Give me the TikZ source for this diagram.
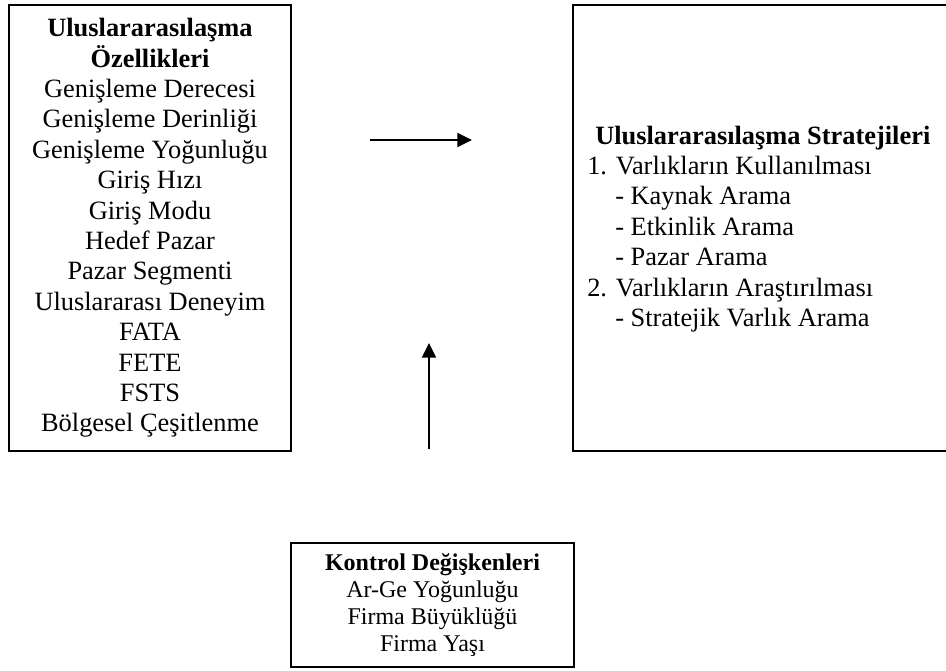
\documentclass[tikz,border=0pt]{standalone}
\usepackage{fontspec}
\setmainfont{Liberation Serif}
\usetikzlibrary{arrows.meta,positioning}

\begin{document}
\begin{tikzpicture}[x=0.75pt,y=-0.75pt,>={Triangle[length=11pt,width=10.5pt]},line join=miter,
  box/.style={draw,line width=1.5pt,inner sep=0pt},
  body/.style={font=\fontsize{19.8pt}{22.8pt}\selectfont,align=center,inner sep=0pt},
  small/.style={font=\fontsize{18pt}{20.3pt}\selectfont,align=center,inner sep=0pt},
  arr/.style={->,line width=1.5pt}]
  \useasboundingbox (0,0) rectangle (946,671);

  % boxes
  \node[box,body,minimum width=211.5pt,minimum height=334.5pt] (features) at (150,228)
    {\textbf{Uluslararasılaşma}\\ \textbf{Özellikleri}\\ Genişleme Derecesi\\ Genişleme Derinliği\\
     Genişleme Yoğunluğu\\ Giriş Hızı\\ Giriş Modu\\ Hedef Pazar\\ Pazar Segmenti\\
     Uluslararası Deneyim\\ FATA\\ FETE\\ FSTS\\ Bölgesel Çeşitlenme};
  \node[box,minimum width=285pt,minimum height=334.5pt] (strategies) at (763,228) {};
  \node[body,align=left,anchor=west] (strattext) at (587,229)
    {\hspace*{6pt}\textbf{Uluslararasılaşma Stratejileri}\\ 1. Varlıkların Kullanılması\\
     \hspace*{21pt}- Kaynak Arama\\ \hspace*{21pt}- Etkinlik Arama\\ \hspace*{21pt}- Pazar Arama\\
     2. Varlıkların Araştırılması\\ \hspace*{21pt}- Stratejik Varlık Arama};
  \node[box,small,minimum width=212.25pt,minimum height=93pt] (controls) at (432.5,605)
    {\textbf{Kontrol Değişkenleri}\\ Ar-Ge Yoğunluğu\\ Firma Büyüklüğü\\ Firma Yaşı};

  % arrows
  \coordinate (h1) at (370,140);
  \coordinate (h2) at (472,140);
  \coordinate (v1) at (429,449);
  \coordinate (v2) at (429,343);
  \draw[arr] (h1) -- (h2);
  \draw[arr] (v1) -- (v2);
\end{tikzpicture}
\end{document}
